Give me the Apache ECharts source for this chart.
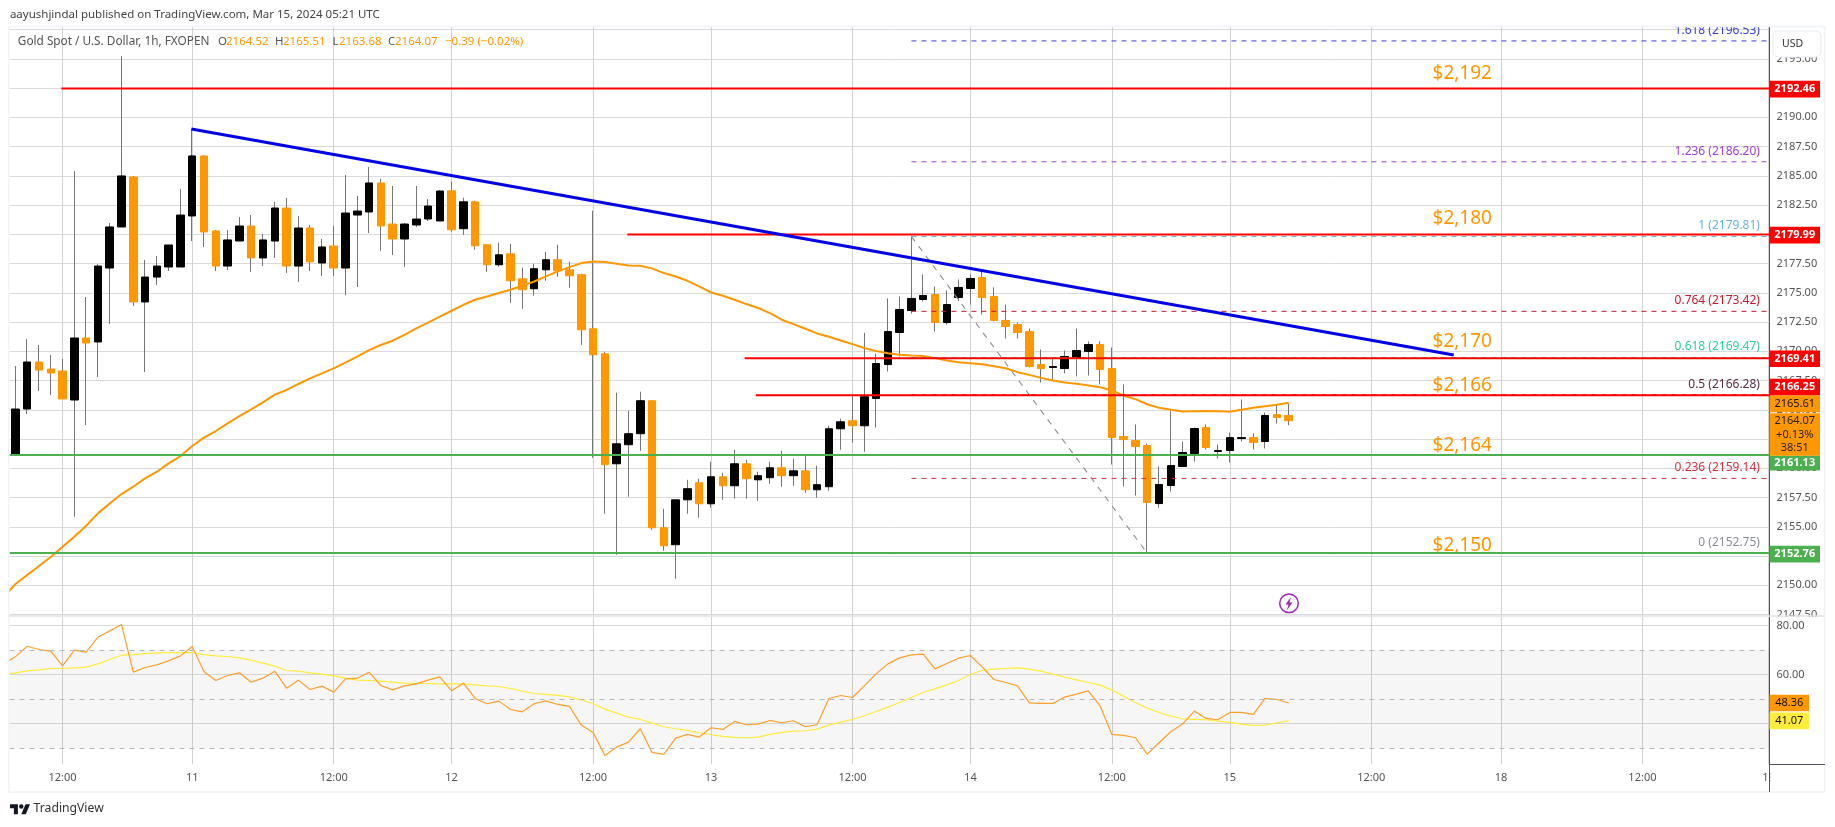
<!DOCTYPE html>
<html>
<head>
<meta charset="utf-8">
<title>Gold Spot / U.S. Dollar</title>
<script src="https://cdn.jsdelivr.net/npm/echarts@6/dist/echarts.min.js"></script>
<style>
html, body { margin: 0; padding: 0; background: #fff; }
#chart { width: 1835px; height: 827px; }
</style>
</head>
<body>
<div id="chart"></div>
<script>
var FONT = '"Noto Sans", sans-serif';

// hourly bars, index 0 is the first whole bar on screen
var opens = [2161.20,2165.07,2169.09,2168.49,2168.32,2165.84,2171.14,2170.80,2177.12,2180.63,
    2184.90,2174.22,2176.35,2177.21,2177.21,2181.57,2186.70,2180.29,2177.29,2179.43,
    2180.71,2177.98,2179.43,2182.25,2177.29,2180.54,2177.55,2179.00,2177.12,2181.65,
    2181.91,2184.39,2180.88,2179.60,2180.80,2181.31,2181.14,2183.72,2180.48,2182.78,
    2179.11,2177.40,2178.34,2176.20,2175.35,2176.97,2177.83,2176.97,2176.55,2171.93,
    2169.79,2160.39,2162.02,2162.96,2165.78,2154.92,2153.47,2157.31,2158.77,2156.97,
    2159.28,2158.51,2160.39,2159.02,2159.20,2160.05,2159.37,2159.79,2158.17,2158.43,
    2163.38,2164.07,2163.64,2165.97,2168.87,2171.61,2173.49,2174.43,2174.86,2172.46,
    2174.60,2175.37,2176.31,2174.69,2172.64,2172.29,2171.69,2168.87,2168.62,2168.53,
    2169.47,2169.99,2170.58,2168.53,2162.72,2162.38,2161.95,2156.99,2158.53,2160.16,
    2161.27,2163.49,2161.44,2161.52,2162.55,2162.63,2162.29,2164.60,2164.52];
var closes = [2165.07,2169.09,2168.40,2168.15,2165.93,2171.14,2170.71,2177.29,2180.63,2184.99,
    2174.22,2176.35,2177.29,2179.09,2181.65,2186.70,2180.20,2177.29,2179.52,2180.71,
    2177.98,2179.52,2182.25,2177.29,2180.54,2177.64,2178.92,2177.12,2181.82,2181.99,
    2184.39,2180.71,2179.60,2180.88,2181.31,2182.42,2183.70,2180.39,2182.78,2179.02,
    2177.40,2178.25,2176.03,2175.26,2177.06,2177.83,2176.89,2176.46,2171.84,2169.71,
    2160.31,2162.10,2162.96,2165.78,2154.92,2153.38,2157.31,2158.26,2156.97,2159.28,
    2158.51,2160.39,2159.11,2159.37,2160.05,2159.37,2159.79,2158.17,2158.60,2163.38,
    2163.98,2163.64,2166.12,2168.96,2171.69,2173.58,2174.52,2174.77,2172.46,2174.00,
    2175.46,2176.23,2174.60,2172.64,2172.12,2171.61,2168.70,2168.53,2168.70,2169.56,
    2170.07,2170.58,2168.45,2162.63,2162.46,2161.87,2157.08,2158.62,2160.24,2161.35,
    2163.40,2161.78,2161.52,2162.63,2162.63,2162.21,2164.52,2164.34,2164.07];
var highs = [2168.75,2171.05,2170.54,2169.69,2169.35,2185.41,2174.64,2177.46,2180.97,2195.24,
    2184.99,2177.81,2178.15,2179.09,2183.88,2189.00,2186.78,2180.37,2180.37,2181.48,
    2181.65,2180.03,2182.76,2183.11,2181.57,2180.80,2179.60,2180.71,2185.07,2183.28,
    2185.75,2184.73,2184.13,2180.97,2184.13,2183.02,2183.79,2184.49,2183.13,2182.87,
    2179.11,2179.28,2179.19,2177.14,2177.49,2178.51,2179.11,2177.66,2176.63,2182.02,
    2169.96,2166.46,2164.92,2166.55,2165.78,2156.55,2157.31,2159.02,2159.11,2160.56,
    2159.62,2161.59,2160.73,2159.71,2160.56,2161.50,2160.82,2161.08,2160.22,2163.64,
    2164.24,2166.35,2171.59,2169.81,2174.52,2174.69,2179.81,2176.57,2175.54,2175.20,
    2176.14,2176.57,2176.91,2175.46,2174.00,2172.46,2171.95,2170.16,2169.39,2170.07,
    2171.95,2170.84,2170.84,2170.33,2167.17,2163.75,2162.12,2160.16,2164.94,2162.29,
    2163.49,2163.75,2162.04,2163.06,2165.88,2162.98,2164.77,2165.46,2165.51];
var lows = [2161.20,2164.64,2166.61,2166.27,2165.93,2155.87,2163.70,2167.81,2172.34,2180.63,
    2173.88,2168.23,2175.67,2176.87,2177.21,2179.43,2178.92,2176.87,2176.95,2179.43,
    2176.78,2177.29,2177.98,2176.70,2175.93,2176.87,2176.44,2176.44,2174.82,2175.50,
    2180.11,2178.58,2178.23,2177.21,2180.63,2181.14,2181.14,2180.22,2179.96,2178.68,
    2176.80,2177.23,2174.15,2173.64,2174.75,2176.03,2176.37,2175.43,2170.56,2160.90,
    2156.12,2152.61,2157.57,2161.50,2154.75,2152.96,2150.56,2156.12,2155.78,2156.63,
    2157.31,2157.40,2157.40,2157.23,2158.68,2158.43,2158.51,2157.91,2157.49,2158.08,
    2161.59,2162.19,2161.42,2163.49,2168.28,2169.56,2173.23,2174.26,2171.69,2172.29,
    2174.30,2174.00,2173.15,2172.55,2171.10,2171.10,2168.62,2167.34,2167.51,2168.11,
    2167.85,2167.93,2167.17,2160.33,2158.45,2157.68,2152.72,2156.65,2158.02,2160.16,
    2160.58,2161.61,2160.84,2160.50,2162.29,2161.61,2161.70,2163.83,2163.68];
// the three lines below start one bar earlier, at the partly hidden bar -1
var emaValues = [2149.00,2150.11,2150.88,2151.65,2152.42,2153.30,2154.15,2155.09,2156.15,2157.00,2157.80,
    2158.43,2159.14,2159.71,2160.42,2161.05,2161.91,2162.62,2163.19,2163.85,2164.47,
    2165.04,2165.64,2166.30,2166.70,2167.21,2167.69,2168.12,2168.55,2169.03,2169.54,
    2170.11,2170.54,2170.91,2171.40,2171.96,2172.45,2172.96,2173.47,2173.98,2174.41,
    2174.69,2174.98,2175.26,2175.60,2175.97,2176.40,2176.83,2177.20,2177.54,2177.68,
    2177.63,2177.49,2177.34,2177.31,2177.09,2176.69,2176.40,2176.03,2175.55,2175.03,
    2174.75,2174.41,2174.04,2173.70,2173.27,2172.70,2172.33,2171.93,2171.53,2171.25,
    2170.93,2170.62,2170.28,2170.02,2169.84,2169.70,2169.64,2169.61,2169.42,2169.22,
    2169.07,2168.99,2168.90,2168.73,2168.56,2168.22,2167.99,2167.73,2167.51,2167.33,
    2167.22,2167.08,2166.94,2166.65,2166.22,2165.91,2165.48,2165.17,2165.00,2164.86,
    2164.89,2164.91,2164.89,2164.83,2165.00,2165.17,2165.31,2165.43,2165.61];
var rsiValues = [64.30,67.21,71.56,70.20,69.52,63.54,69.93,69.12,75.24,77.82,80.41,
    60.95,62.86,63.95,65.58,67.62,71.43,61.09,57.55,59.59,60.68,
    56.87,58.50,61.36,54.42,57.69,53.88,55.24,52.79,58.23,58.50,
    60.95,55.51,53.74,55.37,56.19,57.69,59.05,53.33,56.46,50.20,
    48.03,49.12,45.71,44.76,48.03,49.25,47.76,46.94,39.32,36.33,
    26.94,30.34,32.38,37.82,28.16,27.35,34.01,35.51,34.42,38.23,
    37.55,40.82,39.46,39.73,41.22,40.27,41.09,38.64,39.46,50.20,
    51.43,50.61,55.37,60.27,64.35,66.80,68.03,68.30,62.31,64.49,
    66.67,67.76,63.13,57.96,56.73,55.37,48.44,48.16,48.16,50.75,
    51.97,53.33,47.21,35.51,35.10,34.15,27.48,32.11,36.60,39.73,
    45.03,42.04,41.50,44.49,44.49,43.67,50.20,49.80,48.36];
var rsiMaValues = [60.20,60.68,61.50,61.90,62.45,62.45,62.72,62.99,64.35,66.12,67.89,
    68.16,68.57,68.84,68.98,68.98,68.98,68.16,67.62,67.35,66.80,
    65.85,64.63,63.40,61.63,61.36,60.68,60.14,59.46,58.50,57.69,
    57.55,57.28,56.87,56.46,56.33,56.33,56.19,56.19,56.19,55.78,
    55.37,55.10,54.29,53.20,52.24,51.84,51.43,50.88,49.66,48.03,
    45.85,44.22,42.59,41.63,40.14,38.64,37.82,37.14,36.19,35.37,
    34.69,34.29,34.15,34.42,35.51,36.33,36.87,37.01,37.69,39.32,
    40.54,41.63,43.13,44.90,46.67,48.57,50.61,52.65,54.15,55.78,
    57.55,60.00,61.63,62.18,62.45,62.72,62.18,61.36,60.14,58.91,
    57.82,56.73,55.65,53.61,51.16,48.57,46.26,44.49,42.99,41.90,
    41.63,41.50,40.95,40.41,39.73,39.18,39.32,40.27,41.07];

// axis ticks
var timeTickIndex = [4, 15, 27, 37, 49, 59, 71, 81, 93, 103, 115, 126, 138, 148.7];
var timeTickLabels = ['12:00', '11', '12:00', '12', '12:00', '13', '12:00', '14', '12:00', '15', '12:00', '18', '12:00', '19'];
var priceTicks = [2147.5, 2150, 2152.5, 2155, 2157.5, 2160, 2162.5, 2165, 2167.5, 2170, 2172.5, 2175, 2177.5,
    2180, 2182.5, 2185, 2187.5, 2190, 2192.5, 2195, 2197.5];
var priceTickLabels = priceTicks.filter(function (v) { return v < 2197; }); // top one sits under the USD button
var rsiTicks = [40, 60, 80];
var rsiDashed = [70, 50, 30];

// drawn levels: start bar, price
var redLevelStart = [3.9, 51.9, 61.85, 62.8];
var redLevelPrice = [2192.46, 2179.99, 2169.41, 2166.25];
var greenLevelPrice = [2161.13, 2152.76];
var trendBars = [14.93, 122];
var trendPrices = [2189, 2169.68];

// fibonacci
var fibRatios = ['1.618', '1.236', '1', '0.764', '0.618', '0.5', '0.236', '0'];
var fibPrices = [2196.53, 2186.20, 2179.81, 2173.42, 2169.47, 2166.28, 2159.14, 2152.75];
var fibColors = ['#3d3dd8', '#a13fd6', '#64b5dc', '#c2182f', '#2fcf96', '#5d2a45', '#d2323f', '#8a8d96'];
var fibStartBar = 76;
var fibDiagonalBars = [76, 96];
var fibDiagonalPrices = [2179.81, 2152.75];

// orange price notes written on the chart
var noteTexts = ['$2,192', '$2,180', '$2,170', '$2,166', '$2,164', '$2,150'];
var notePrices = [2193.78, 2181.38, 2170.80, 2167.05, 2161.97, 2153.42];
var noteBar = 120.2;

var barMin = -0.5, barMax = 148.78;
var priceMin = 2147.38, priceMax = 2197.72;
var rsiMin = 23.3, rsiMax = 83.5;

function levelLine(points, color, width, type, z) {
    return {
        type: 'line',
        data: points,
        showSymbol: false,
        silent: true,
        z: z,
        lineStyle: {color: color, width: width, type: type}
    };
}

// a tag is a rect symbol hung on the right edge of the pane, text centred in it
function priceTag(price, text, bg, fg, shiftY, tagWidth, tagHeight) {
    return {
        coord: [barMax, price],
        symbol: 'rect',
        symbolSize: [tagWidth, tagHeight || 16.7],
        symbolOffset: [tagWidth / 2, shiftY],
        itemStyle: {color: bg},
        label: {
            show: true,
            position: 'inside',
            formatter: text,
            lineHeight: 13.3,
            color: fg,
            fontFamily: FONT,
            fontSize: 11,
            fontWeight: fg === '#fff' ? 'bold' : 'normal'
        }
    };
}

var wickData = opens.map(function (o, i) { return [i, o, closes[i], lows[i], highs[i]]; });
var bodyData = opens.map(function (o, i) {
    return [i, o, closes[i], Math.min(o, closes[i]), Math.max(o, closes[i])];
});

var series = [];

// wicks first, bodies on top
series.push({
    type: 'candlestick', data: wickData, barWidth: 1, silent: true, z: 3,
    encode: {x: 0, y: [1, 2, 3, 4]},
    itemStyle: {color: '#757575', color0: '#757575', borderColor: '#757575', borderColor0: '#757575', borderWidth: 1}
});
series.push({
    type: 'candlestick', data: bodyData, barWidth: 8, silent: true, z: 3,
    encode: {x: 0, y: [1, 2, 3, 4]},
    itemStyle: {color: '#000000', color0: '#ff9800', borderColor: '#000000', borderColor0: '#ff9800', borderWidth: 1}
});

series.push({
    type: 'line',
    data: emaValues.map(function (v, i) { return [i - 1, v]; }),
    showSymbol: false, silent: true, z: 4,
    lineStyle: {color: '#ff9800', width: 2}
});

fibPrices.forEach(function (p, i) {
    series.push(levelLine([[fibStartBar, p], [barMax, p]], fibColors[i], 1, [5, 5], 4));
});
series.push(levelLine(fibDiagonalBars.map(function (b, i) { return [b, fibDiagonalPrices[i]]; }), '#8a8d96', 1.1, [6, 6], 5));

redLevelPrice.forEach(function (p, i) {
    series.push(levelLine([[redLevelStart[i], p], [barMax, p]], '#ff0000', 2, 'solid', 6));
});
greenLevelPrice.forEach(function (p) {
    series.push(levelLine([[barMin, p], [barMax, p]], '#4caf50', 2, 'solid', 6));
});
series.push(levelLine(trendBars.map(function (b, i) { return [b, trendPrices[i]]; }), '#0000e6', 3, 'solid', 7));

// text on the chart: fib captions and the orange notes
var captionPoints = fibPrices.map(function (p, i) {
    return {
        coord: [147.97, p],
        symbolSize: 0,
        label: {
            show: true, position: 'inside', align: 'right', offset: [0, -10.5],
            formatter: fibRatios[i] + ' (' + p.toFixed(2) + ')',
            color: fibColors[i], fontFamily: FONT, fontSize: 12
        }
    };
});
var notePoints = noteTexts.map(function (t, i) {
    return {
        coord: [noteBar, notePrices[i]],
        symbolSize: 0,
        label: {
            show: true, position: 'inside', align: 'left',
            formatter: t, color: '#ff9800', fontFamily: FONT, fontSize: 19
        }
    };
});
series.push({
    type: 'line', data: [], silent: true, z: 8,
    markPoint: {silent: true, data: captionPoints.concat(notePoints)}
});

// value tags on the price scale
series.push({
    type: 'line', data: [], silent: true, z: 9,
    markPoint: {
        silent: true,
        data: [
            priceTag(2192.46, '2192.46', '#ff0000', '#fff', 0.5, 50.5),
            priceTag(2179.99, '2179.99', '#ff0000', '#fff', 0.7, 50.5),
            priceTag(2169.41, '2169.41', '#ff0000', '#fff', 0.5, 50.5),
            priceTag(2166.25, '2166.25', '#ff0000', '#fff', -8, 50.5),
            priceTag(2161.13, '2161.13', '#4caf50', '#fff', 8, 50.5, 15),
            priceTag(2152.76, '2152.76', '#4caf50', '#fff', 1, 50.5),
            priceTag(2164.07, '2164.07\n+0.13%\n38:51', '#ff9800', '#222', 13.8, 50.5, 42.4),
            priceTag(2165.61, '2165.61', '#ff9800', '#111', 1.2, 50.5)
        ]
    }
});

// RSI pane
series.push({
    type: 'line', xAxisIndex: 1, yAxisIndex: 1, silent: true, z: 3,
    data: rsiMaValues.map(function (v, i) { return [i - 1, v]; }),
    showSymbol: false,
    lineStyle: {color: '#ffeb3b', width: 1.2},
    markArea: {
        silent: true,
        itemStyle: {color: 'rgba(0,0,0,0.035)'},
        data: [[{yAxis: rsiDashed[0]}, {yAxis: rsiDashed[2]}]]
    },
    markLine: {
        silent: true, symbol: 'none', label: {show: false},
        lineStyle: {color: '#b6b8bf', type: [5, 5], width: 1},
        data: rsiDashed.map(function (v) { return {yAxis: v}; })
    }
});
series.push({
    type: 'line', xAxisIndex: 1, yAxisIndex: 1, silent: true, z: 4,
    data: rsiValues.map(function (v, i) { return [i - 1, v]; }),
    showSymbol: false,
    lineStyle: {color: '#ff9f2b', width: 1.2},
    markPoint: {
        silent: true,
        data: [
            priceTag(41.07, '41.07', '#ffeb3b', '#111', 0, 39.5),
            priceTag(48.36, '48.36', '#ff9800', '#111', 0, 39.5)
        ]
    }
});

function xAxisFor(gridIndex, showLabels) {
    return {
        type: 'value', gridIndex: gridIndex, min: barMin, max: barMax,
        axisLine: {show: false},
        axisTick: {show: false, customValues: timeTickIndex},
        splitLine: {show: true, lineStyle: {color: '#d2d2d2', width: 1}},
        axisLabel: {
            show: showLabels, customValues: timeTickIndex, margin: 8,
            color: '#555', fontFamily: FONT, fontSize: 11,
            hideOverlap: false, showMinLabel: true, showMaxLabel: true,
            formatter: function (v) { return timeTickLabels[timeTickIndex.indexOf(v)]; }
        }
    };
}

function yAxisFor(gridIndex, min, max, ticks, labels) {
    return {
        type: 'value', gridIndex: gridIndex, position: 'right', min: min, max: max,
        axisLine: {show: true, onZero: false, lineStyle: {color: '#50535e', width: 1}},
        axisTick: {show: false, customValues: ticks},
        splitLine: {show: true, lineStyle: {color: '#dadada', width: 1}},
        axisLabel: {
            customValues: labels, margin: 7, color: '#555', fontFamily: FONT, fontSize: 11,
            hideOverlap: false, showMinLabel: true, showMaxLabel: true,
            formatter: function (v) { return v.toFixed(2); }
        }
    };
}

function headText(x, y, text, color, size) {
    return {
        type: 'text', x: x, y: y, z: 101, silent: true,
        style: {text: text, fill: color, font: (size || 12) + 'px ' + FONT, textVerticalAlign: 'middle'}
    };
}

var UP = '#ff9800';
var graphic = [
    // page above and below the frame
    {type: 'rect', z: 100, silent: true, shape: {x: 0, y: 0, width: 1835, height: 26}, style: {fill: '#fff'}},
    {type: 'rect', z: 100, silent: true, shape: {x: 1770.5, y: 765, width: 54, height: 26}, style: {fill: '#fff'}},
    {type: 'rect', z: 100, silent: true, shape: {x: 1770.5, y: 617, width: 54, height: 3}, style: {fill: '#fff'}},
    // frame and pane separator
    {type: 'rect', z: 100, silent: true, shape: {x: 8.7, y: 26.5, width: 1816, height: 765.5}, style: {fill: 'none', stroke: '#f0f3fa', lineWidth: 1.6}},
    {type: 'line', z: 100, silent: true, shape: {x1: 9, y1: 616, x2: 1825, y2: 616}, style: {stroke: '#e0e3eb', lineWidth: 1.5}},
    {type: 'line', z: 100, silent: true, shape: {x1: 1769.5, y1: 764.5, x2: 1825, y2: 764.5}, style: {stroke: '#50535e', lineWidth: 1}},
    {type: 'line', z: 100, silent: true, shape: {x1: 1769.5, y1: 764.5, x2: 1769.5, y2: 792}, style: {stroke: '#50535e', lineWidth: 1}},
    // USD button
    {type: 'rect', z: 100, silent: true, shape: {x: 1773, y: 31, width: 48, height: 26, r: 5}, style: {fill: '#fff', stroke: '#e8eaf0', lineWidth: 1}},
    headText(1782, 44, 'USD', '#333', 10.5),
    // header
    headText(9.9, 15, 'aayushjindal published on TradingView.com, Mar 15, 2024 05:21 UTC', '#444', 11.5),
    headText(17.8, 42, 'Gold Spot / U.S. Dollar, 1h, FXOPEN', '#555', 11.8),
    headText(217.9, 42, 'O', '#555', 11.5), headText(226, 42, '2164.52', UP, 11.5),
    headText(275, 42, 'H', '#555', 11.5), headText(283, 42, '2165.51', UP, 11.5),
    headText(332.5, 42, 'L', '#555', 11.5), headText(339, 42, '2163.68', UP, 11.5),
    headText(388, 42, 'C', '#555', 11.5), headText(395, 42, '2164.07', UP, 11.5),
    headText(445, 42, '\u22120.39 (\u22120.02%)', UP, 11.5),
    // lightning marker
    {type: 'circle', z: 100, silent: true, shape: {cx: 1289, cy: 603.3, r: 9.3}, style: {fill: '#fff', stroke: '#9c27b0', lineWidth: 1.5}},
    {type: 'polygon', z: 100, silent: true, shape: {points: [[1291, 597], [1285.5, 604.5], [1288.5, 604.5], [1287, 610], [1292.5, 602.5], [1289.5, 602.5]]}, style: {fill: '#9c27b0'}},
    // logo
    {type: 'polygon', z: 100, silent: true, shape: {points: [[10, 804.3], [17.9, 804.3], [17.9, 814.3], [13.9, 814.3], [13.9, 808.2], [10, 808.2]]}, style: {fill: '#131722'}},
    {type: 'polygon', z: 100, silent: true, shape: {points: [[21.3, 814.3], [25.5, 804.3], [30, 804.3], [25.8, 814.3]]}, style: {fill: '#131722'}},
    {type: 'circle', z: 100, silent: true, shape: {cx: 21.3, cy: 806.5, r: 2.2}, style: {fill: '#131722'}},
    headText(33.6, 809, 'TradingView', '#333', 12.2)
];

var option = {
    animation: false,
    backgroundColor: '#fff',
    grid: [
        {left: 9.5, top: 27, width: 1760, height: 589},
        {left: 9.5, top: 617, width: 1760, height: 147.3}
    ],
    xAxis: [xAxisFor(0, false), xAxisFor(1, true)],
    yAxis: [yAxisFor(0, priceMin, priceMax, priceTicks, priceTickLabels), yAxisFor(1, rsiMin, rsiMax, rsiTicks, rsiTicks)],
    series: series,
    graphic: graphic
};

var myChart = echarts.init(document.getElementById('chart'));
myChart.setOption(option);
</script>
</body>
</html>
